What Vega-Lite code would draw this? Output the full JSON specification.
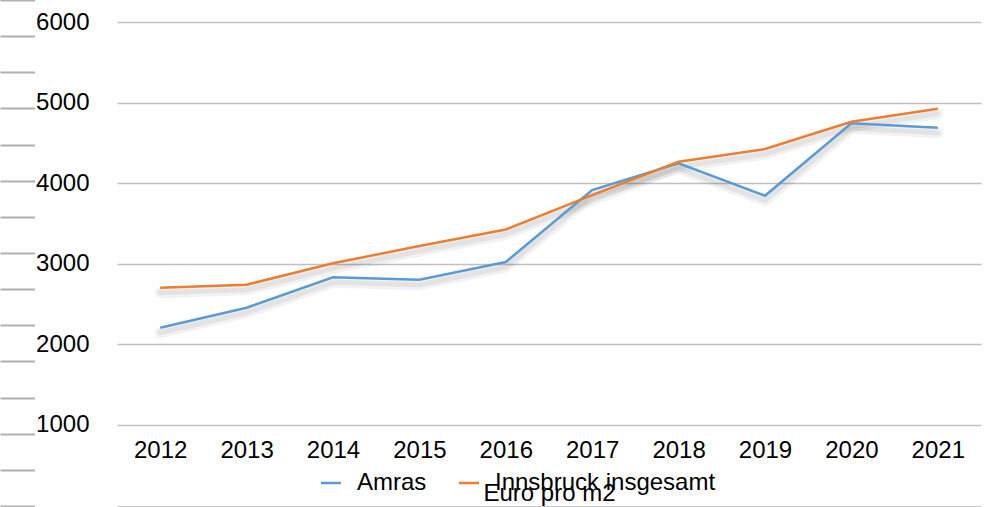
{
  "$schema": "https://vega.github.io/schema/vega-lite/v6.json",
  "width": 864,
  "height": 507,
  "autosize": {"type": "none"},
  "padding": {"left": 117, "top": 0, "right": 15, "bottom": 0},
  "background": "white",
  "config": {"view": {"stroke": null}, "font": "Liberation Sans"},
  "data": {
    "values": [
      {"Jahr": "2012", "Serie": "Amras", "Preis": 2205},
      {"Jahr": "2013", "Serie": "Amras", "Preis": 2453},
      {"Jahr": "2014", "Serie": "Amras", "Preis": 2831},
      {"Jahr": "2015", "Serie": "Amras", "Preis": 2801},
      {"Jahr": "2016", "Serie": "Amras", "Preis": 3021},
      {"Jahr": "2017", "Serie": "Amras", "Preis": 3916},
      {"Jahr": "2018", "Serie": "Amras", "Preis": 4247},
      {"Jahr": "2019", "Serie": "Amras", "Preis": 3845},
      {"Jahr": "2020", "Serie": "Amras", "Preis": 4744},
      {"Jahr": "2021", "Serie": "Amras", "Preis": 4690},
      {"Jahr": "2012", "Serie": "Innsbruck insgesamt", "Preis": 2702},
      {"Jahr": "2013", "Serie": "Innsbruck insgesamt", "Preis": 2739},
      {"Jahr": "2014", "Serie": "Innsbruck insgesamt", "Preis": 3005},
      {"Jahr": "2015", "Serie": "Innsbruck insgesamt", "Preis": 3220},
      {"Jahr": "2016", "Serie": "Innsbruck insgesamt", "Preis": 3425},
      {"Jahr": "2017", "Serie": "Innsbruck insgesamt", "Preis": 3853},
      {"Jahr": "2018", "Serie": "Innsbruck insgesamt", "Preis": 4267},
      {"Jahr": "2019", "Serie": "Innsbruck insgesamt", "Preis": 4425},
      {"Jahr": "2020", "Serie": "Innsbruck insgesamt", "Preis": 4764},
      {"Jahr": "2021", "Serie": "Innsbruck insgesamt", "Preis": 4925}
    ]
  },
  "layer": [
    {
      "mark": {"type": "line", "color": "#000000", "opacity": 0.05, "strokeWidth": 11, "strokeCap": "round", "strokeJoin": "round"},
      "encoding": {
        "x": {
          "field": "Jahr", "type": "ordinal",
          "scale": {"type": "point", "padding": 0.5},
          "axis": {"orient": "bottom", "offset": -1, "labels": false, "ticks": false, "grid": false, "domain": true, "domainColor": "#c8c8c8", "domainWidth": 1, "title": null}
        },
        "y": {
          "field": "Preis", "type": "quantitative",
          "scale": {"domain": [39, 6339], "nice": false, "zero": false},
          "axis": {
            "orient": "left", "offset": 82.5, "values": [6339, 5890, 5441, 4992, 4542, 4093, 3644, 3195, 2746, 2297, 1848, 1399, 949, 500, 51],
            "labels": false, "domain": false, "grid": false, "ticks": true, "tickSize": 34.5, "tickColor": "#b0b0b0", "tickWidth": 2, "title": null
          }
        },
        "detail": {"field": "Serie"}
      }
    },
    {
      "mark": {"type": "line", "color": "#000000", "opacity": 0.06, "strokeWidth": 5, "strokeCap": "round", "strokeJoin": "round"},
      "encoding": {
        "x": {"field": "Jahr", "type": "ordinal", "scale": {"type": "point", "padding": 0.5}, "axis": null},
        "y": {"field": "Preis", "type": "quantitative", "scale": {"domain": [39, 6339], "nice": false, "zero": false}, "axis": null},
        "detail": {"field": "Serie"}
      }
    },
    {
      "mark": {"type": "line", "strokeWidth": 2.5},
      "encoding": {
        "x": {
          "field": "Jahr", "type": "ordinal",
          "scale": {"type": "point", "padding": 0.5},
          "axis": {
            "orient": "bottom", "offset": -82, "labelAngle": 0, "labelFontSize": 24, "labelColor": "#000000", "labelPadding": 13,
            "ticks": false, "domain": false, "grid": false,
            "title": "Euro pro m2", "titleFontSize": 24, "titleFontWeight": "normal", "titleColor": "#000000",
            "titleBaseline": "alphabetic", "titleY": 75
          }
        },
        "y": {
          "field": "Preis", "type": "quantitative",
          "scale": {"domain": [-23, 6277], "nice": false, "zero": false},
          "axis": {
            "orient": "left", "values": [1000, 2000, 3000, 4000, 5000, 6000], "format": "d",
            "grid": true, "gridColor": "#c0c0c0", "gridWidth": 1.6,
            "ticks": false, "domain": false, "labelFontSize": 24, "labelColor": "#000000", "labelPadding": 28, "title": null
          }
        },
        "color": {
          "field": "Serie", "type": "nominal",
          "scale": {"domain": ["Amras", "Innsbruck insgesamt"], "range": ["#5B9BD5", "#ED7D31"]},
          "legend": {
            "orient": "none", "legendX": 202, "legendY": 471, "direction": "horizontal", "title": null,
            "symbolType": "stroke", "symbolSize": 400, "symbolStrokeWidth": 2.5,
            "labelFontSize": 24, "labelColor": "#000000", "labelOffset": 14, "labelLimit": 600, "columnPadding": 27, "padding": 0
          }
        }
      }
    }
  ],
  "resolve": {"scale": {"y": "independent"}, "axis": {"x": "independent", "y": "independent"}}
}
